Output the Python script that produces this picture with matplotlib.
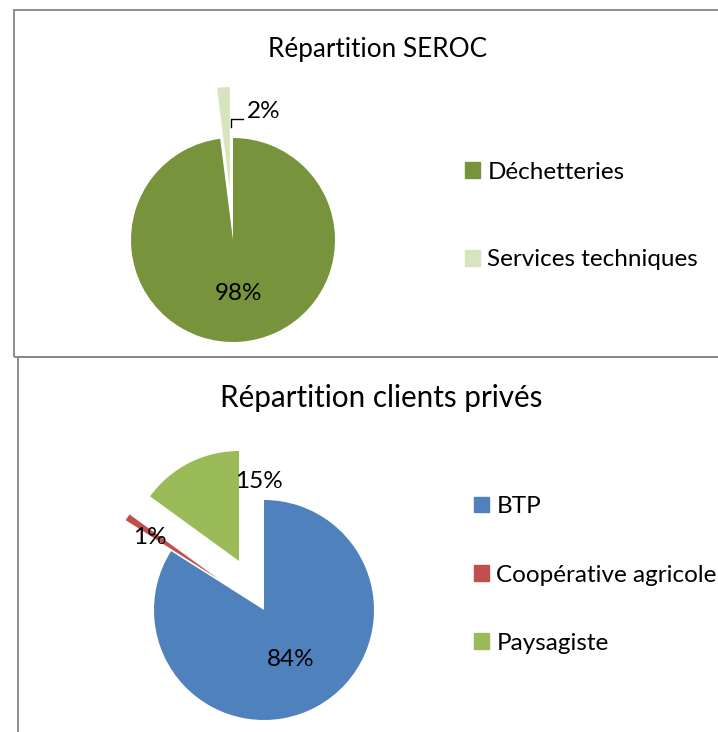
import matplotlib
matplotlib.use("Agg")
import matplotlib.pyplot as plt
from matplotlib.patches import Patch, Rectangle
from matplotlib.lines import Line2D

plt.rcParams['font.family'] = ['Lato', 'DejaVu Sans']

W, H = 718, 732

# data
seroc_labels = ['Déchetteries', 'Services techniques']
seroc_values = [98, 2]
seroc_colors = ['#77933C', '#D7E4BD']

prives_labels = ['BTP', 'Coopérative agricole', 'Paysagiste']
prives_values = [84, 1, 15]
prives_colors = ['#4F81BD', '#C0504D', '#9BBB59']


def fx(x):
    return x / W


def fy(y):
    return 1 - y / H


fig = plt.figure(figsize=(W / 100, H / 100), dpi=100)

# chart frames
fig.add_artist(Rectangle((fx(14), fy(357)), fx(760 - 14), fy(10) - fy(357),
                         fill=False, edgecolor='#868686', linewidth=1.3,
                         transform=fig.transFigure))
fig.add_artist(Rectangle((fx(18), fy(760)), fx(760 - 18), fy(357) - fy(760),
                         fill=False, edgecolor='#868686', linewidth=1.3,
                         transform=fig.transFigure))


def pie_axes(cx, cy, r):
    s = 3 * r
    ax = fig.add_axes([fx(cx - s / 2), fy(cy + s / 2), s / W, s / H])
    return ax


# top pie
ax1 = pie_axes(233, 240, 102)
ax1.pie(seroc_values, colors=seroc_colors, startangle=90, counterclock=False,
        explode=[0, 0.5], wedgeprops=dict(linewidth=0))
ax1.set_xlim(-1.5, 1.5)
ax1.set_ylim(-1.5, 1.5)
ax1.axis('off')

fig.text(fx(378), fy(50), 'Répartition SEROC', ha='center', va='center', fontsize=18.8)
fig.text(fx(238), fy(293), '98%', ha='center', va='center', fontsize=17.5)
fig.text(fx(264), fy(112), '2%', ha='center', va='center', fontsize=17.5)
fig.add_artist(Line2D([fx(231), fx(231), fx(243)], [fy(127), fy(119), fy(119)],
                      color='black', linewidth=1, transform=fig.transFigure))

fig.legend([Patch(color=c) for c in seroc_colors], seroc_labels,
           loc='center left', bbox_to_anchor=(fx(465), fy(216)), frameon=False,
           fontsize=17.5, handlelength=0.62, handleheight=0.62, handletextpad=0.3,
           labelspacing=2.75, borderpad=0, borderaxespad=0)

# bottom pie
ax2 = pie_axes(264, 610, 110)
ax2.pie(prives_values, colors=prives_colors, startangle=90, counterclock=False,
        explode=[0, 0.5, 0.5], wedgeprops=dict(linewidth=0))
ax2.set_xlim(-1.5, 1.5)
ax2.set_ylim(-1.5, 1.5)
ax2.axis('off')

fig.text(fx(381), fy(398), 'Répartition clients privés', ha='center', va='center', fontsize=21.3)
fig.text(fx(291), fy(660), '84%', ha='center', va='center', fontsize=17.5)
fig.text(fx(259), fy(482), '15%', ha='center', va='center', fontsize=17.5)
fig.text(fx(150), fy(537), '1%', ha='center', va='center', fontsize=17.5)

fig.legend([Patch(color=c) for c in prives_colors], prives_labels,
           loc='center left', bbox_to_anchor=(fx(474), fy(575)), frameon=False,
           fontsize=17.5, handlelength=0.62, handleheight=0.62, handletextpad=0.3,
           labelspacing=1.95, borderpad=0, borderaxespad=0)

fig.savefig('out.png', dpi=100)
